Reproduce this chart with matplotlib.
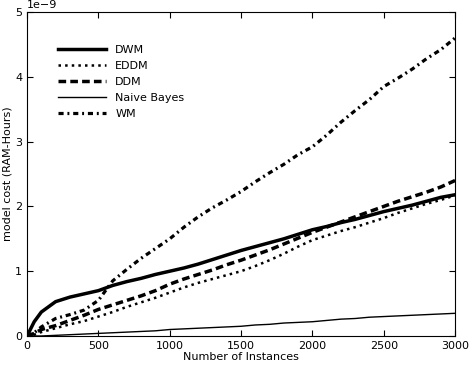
import matplotlib.pyplot as plt

# Number of instances
instances = [0, 50, 100, 200, 300, 400, 500, 600, 700, 800, 900, 1000,
             1100, 1200, 1300, 1400, 1500, 1600, 1700, 1800, 1900, 2000,
             2100, 2200, 2300, 2400, 2500, 2600, 2700, 2800, 2900, 3000]

# model cost, in units of 1e-9 RAM-Hours
dwm = [0, 0.22, 0.37, 0.53, 0.6, 0.65, 0.7, 0.78, 0.84, 0.89, 0.95, 1.0,
       1.05, 1.11, 1.18, 1.25, 1.32, 1.38, 1.44, 1.5, 1.57, 1.64,
       1.69, 1.75, 1.8, 1.86, 1.92, 1.97, 2.02, 2.08, 2.14, 2.18]
eddm = [0, 0.02, 0.06, 0.12, 0.18, 0.23, 0.3, 0.37, 0.45, 0.52, 0.59, 0.67,
        0.75, 0.82, 0.88, 0.94, 1.0, 1.08, 1.17, 1.27, 1.38, 1.48,
        1.55, 1.62, 1.68, 1.75, 1.82, 1.9, 1.97, 2.04, 2.1, 2.17]
ddm = [0, 0.04, 0.1, 0.16, 0.24, 0.32, 0.41, 0.48, 0.55, 0.62, 0.7, 0.8,
       0.88, 0.95, 1.02, 1.1, 1.17, 1.25, 1.33, 1.42, 1.51, 1.6,
       1.68, 1.76, 1.84, 1.92, 2.0, 2.08, 2.15, 2.22, 2.3, 2.4]
naive_bayes = [0, 0, 0, 0.01, 0.02, 0.03, 0.04, 0.05, 0.06, 0.07, 0.08, 0.1,
               0.11, 0.12, 0.13, 0.14, 0.15, 0.17, 0.18, 0.2, 0.21, 0.22,
               0.24, 0.26, 0.27, 0.29, 0.3, 0.31, 0.32, 0.33, 0.34, 0.35]
wm = [0, 0.05, 0.14, 0.27, 0.33, 0.4, 0.55, 0.85, 1.03, 1.2, 1.35, 1.5,
      1.68, 1.84, 1.98, 2.1, 2.23, 2.38, 2.52, 2.65, 2.8, 2.92,
      3.1, 3.3, 3.48, 3.65, 3.85, 3.98, 4.12, 4.28, 4.42, 4.6]

scale = 1e-9

fig = plt.figure(figsize=(4.75, 3.66), dpi=100)
ax = fig.add_axes([0.057, 0.082, 0.901, 0.885])

ax.plot(instances, [v * scale for v in dwm], color='black', linestyle='-', linewidth=2.5, label='DWM')
ax.plot(instances, [v * scale for v in eddm], color='black', linestyle=':', linewidth=1.8, label='EDDM')
ax.plot(instances, [v * scale for v in ddm], color='black', linewidth=2.5, label='DDM',
        dashes=(2.2, 1.2))
ax.plot(instances, [v * scale for v in naive_bayes], color='black', linestyle='-', linewidth=1, label='Naive Bayes')
ax.plot(instances, [v * scale for v in wm], color='black', linewidth=2.3, label='WM',
        dashes=(1.6, 1.2, 0.6, 1.2))

ax.set_xlim(0, 3000)
ax.set_ylim(0, 5e-9)
ax.set_xticks([0, 500, 1000, 1500, 2000, 2500, 3000])
ax.tick_params(direction='in', top=True, right=True, labelsize=8, length=4)
ax.yaxis.get_offset_text().set_fontsize(8)

ax.set_xlabel('Number of Instances', fontsize=8, labelpad=1)
ax.set_ylabel('model cost (RAM-Hours)', fontsize=8, labelpad=2)

ax.legend(loc='upper left', bbox_to_anchor=(0.05, 0.93), frameon=False,
          fontsize=8, handlelength=4.3, labelspacing=0.55)

fig.savefig('out.png', dpi=100)
